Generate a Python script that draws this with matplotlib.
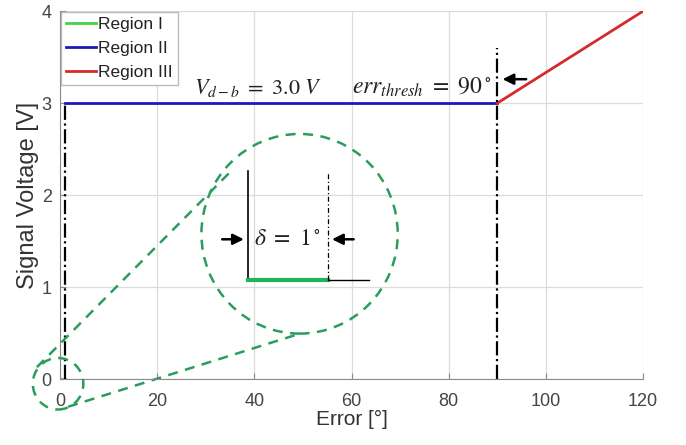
import matplotlib.pyplot as plt
from matplotlib.patches import Ellipse

plt.rcParams['font.family'] = ['Liberation Sans', 'DejaVu Sans']

# region curves
err_r1 = [0, 1]
v_r1 = [0, 0]
err_r2 = [1, 90]
v_r2 = [3, 3]
err_r3 = [90, 120]
v_r3 = [3, 4]

labels = ['Region I', 'Region II', 'Region III']
colors = ['#44d444', '#1a1ab8', '#d42a2a']
zoom_green = '#2a9d5c'

fig = plt.figure(figsize=(6.86, 4.45), dpi=100)
ax = fig.add_axes([0.0875, 0.148, 0.85, 0.827])

ax.plot(err_r1, v_r1, color=colors[0], lw=2, label=labels[0])
ax.plot(err_r2, v_r2, color=colors[1], lw=2, label=labels[1])
ax.plot(err_r3, v_r3, color=colors[2], lw=2, label=labels[2])

# threshold markers
ax.plot([1, 1], [0, 3], color='black', lw=1.6, ls='-.')
ax.plot([90, 90], [0, 3.6], color='black', lw=1.6, ls='-.')

math = dict(math_fontfamily='stix', color='#222222')
ax.text(40.8, 3.05, r'$V_{d-b}\ =\ 3.0\ V$', ha='center', va='bottom', fontsize=16, **math)
ax.text(74.5, 3.05, r'$err_{thresh}\ =\ 90^\circ$', ha='center', va='bottom', fontsize=17, **math)
ax.annotate('', xy=(90.5, 3.26), xytext=(96.5, 3.26),
            arrowprops=dict(arrowstyle='-|>', color='black', lw=1.8, mutation_scale=16))

# zoom callout
ax.add_patch(Ellipse((-0.4, -0.05), 10.4, 0.56, fill=False, ec=zoom_green,
                     lw=1.8, ls=(0, (4, 3)), clip_on=False, zorder=5))
ax.add_patch(Ellipse((49.3, 1.58), 40.4, 2.17, fill=False, ec=zoom_green,
                     lw=1.8, ls=(0, (4, 3)), zorder=5))
ax.plot([-4.76, 34.8], [0.13, 2.24], color=zoom_green, lw=1.8, ls=(0, (4, 3)), clip_on=False)
ax.plot([1.66, 49.7], [-0.30, 0.50], color=zoom_green, lw=1.8, ls=(0, (4, 3)), clip_on=False)

# inset detail
ax.plot([38.7, 38.7], [1.08, 2.26], color='black', lw=1.2)
ax.plot([38.7, 55.1], [1.08, 1.08], color='#22b35a', lw=3)
ax.plot([55.1, 63.6], [1.08, 1.08], color='black', lw=1.0)
ax.plot([55.1, 55.1], [1.08, 2.24], color='black', lw=0.9, ls=(0, (4, 2, 1, 2)))
ax.annotate('', xy=(38.4, 1.52), xytext=(32.8, 1.52),
            arrowprops=dict(arrowstyle='-|>', color='black', lw=1.8, mutation_scale=16))
ax.annotate('', xy=(55.4, 1.52), xytext=(61.0, 1.52),
            arrowprops=dict(arrowstyle='-|>', color='black', lw=1.8, mutation_scale=16))
ax.text(46.9, 1.52, r'$\delta\ =\ 1^\circ$', ha='center', va='center', fontsize=17, **math)

ax.set_xlim(0, 120)
ax.set_ylim(0, 4)
ax.set_xticks([0, 20, 40, 60, 80, 100, 120])
ax.set_yticks([0, 1, 2, 3, 4])
ax.grid(True, color='#dcdcdc', lw=0.9)
ax.set_axisbelow(True)
for s in ['top', 'right']:
    ax.spines[s].set_visible(False)
for s in ['left', 'bottom']:
    ax.spines[s].set_color('#8a8a8a')
ax.tick_params(direction='in', colors='#8a8a8a', labelcolor='#444444',
               labelsize=13, length=4)
ax.tick_params(axis='x', pad=10)
ax.tick_params(axis='y', pad=6)
ax.set_xlabel('Error [°]', fontsize=15, color='#333333', labelpad=0)
ax.set_ylabel('Signal Voltage [V]', fontsize=17, color='#333333', labelpad=2)

leg = ax.legend(loc='upper left', fontsize=12.5, handlelength=1.7, handletextpad=0.15,
                borderpad=0.3, labelspacing=0.5, borderaxespad=0.05,
                fancybox=False, framealpha=1, edgecolor='#bbbbbb')
for t in leg.get_texts():
    t.set_color('#222222')

fig.savefig('out.png', dpi=100)
